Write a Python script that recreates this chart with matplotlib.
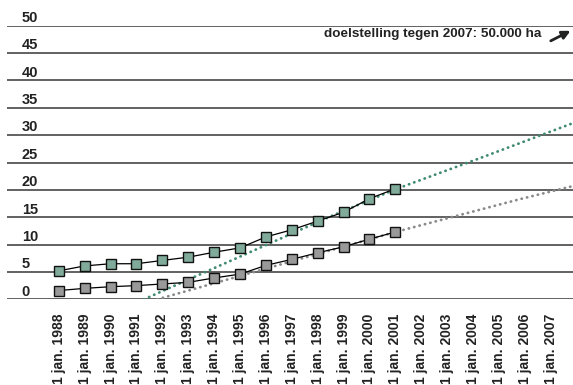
import numpy as np
import matplotlib.pyplot as plt

# data (thousand ha)
years = list(range(1988, 2002))
upper = [5.2, 6.1, 6.5, 6.5, 7.1, 7.7, 8.6, 9.4, 11.4, 12.7, 14.3, 15.9, 18.4, 20.2]
lower = [1.6, 2.0, 2.3, 2.5, 2.8, 3.1, 3.9, 4.6, 6.2, 7.3, 8.5, 9.6, 11.0, 12.3]

# dotted trend lines
trend_up_x = [1991.29, 1998.47, 2001.0, 2004.27, 2007.86]
trend_up_y = [0.0, 15.1, 20.1, 25.8, 32.2]
trend_lo_x = [1991.81, 2001.0, 2005.81, 2007.86]
trend_lo_y = [0.0, 12.3, 18.3, 20.7]

tick_years = list(range(1988, 2008))
tick_labels = ["1 jan. %d" % y for y in tick_years]
y_ticks = [0, 5, 10, 15, 20, 25, 30, 35, 40, 45, 50]

font = ['Liberation Sans', 'DejaVu Sans']

fig = plt.figure(figsize=(5.73, 3.85), dpi=100)
ax = fig.add_axes([7 / 573, 85.7 / 385, 566 / 573, 273.6 / 385])
ax.set_xlim(1986.0, 2007.86)
ax.set_ylim(0, 50)
for s in ax.spines.values():
    s.set_visible(False)

for v in y_ticks:
    ax.axhline(v, color='#555555', lw=1.3, zorder=1)
    ax.text(15 / 573, v + 1.4, str(v), transform=ax.get_yaxis_transform(),
            ha='left', va='center', fontsize=10.5, fontweight='bold',
            family=font, color='#222222', clip_on=False)

ax.plot(trend_up_x, trend_up_y, color='#3f8a70', lw=2.0,
        dashes=(0.1, 1.9), dash_capstyle='round', zorder=2)
ax.plot(trend_lo_x, trend_lo_y, color='#8a8a8a', lw=2.0,
        dashes=(0.1, 1.9), dash_capstyle='round', zorder=2)

ax.plot(years, upper, color='black', lw=0.9, marker='s', markersize=6.5,
        markerfacecolor='#80ab9b', markeredgecolor='#111111', markeredgewidth=1.0, zorder=3)
ax.plot(years, lower, color='black', lw=0.9, marker='s', markersize=6.5,
        markerfacecolor='#999999', markeredgecolor='#111111', markeredgewidth=1.0, zorder=3)

ax.set_xticks(tick_years)
ax.set_xticklabels(tick_labels, rotation=90, fontsize=10, fontweight='bold',
                   family=font, color='#222222', va='top')
ax.tick_params(axis='x', length=0, pad=10.5)
ax.set_yticks([])

ax.text(541 / 573, 48.4, "doelstelling tegen 2007: 50.000 ha", transform=ax.get_yaxis_transform(),
        ha='right', va='center', fontsize=9.7, fontweight='bold', family=font, color='#222222')
ax.annotate('', xy=(573 / 573, 49.3), xytext=(548 / 573, 47.0),
            xycoords=ax.get_yaxis_transform(), textcoords=ax.get_yaxis_transform(),
            arrowprops=dict(arrowstyle='-|>', color='#222222', lw=2.0, mutation_scale=12),
            annotation_clip=False)

fig.savefig('out.png', dpi=100)
